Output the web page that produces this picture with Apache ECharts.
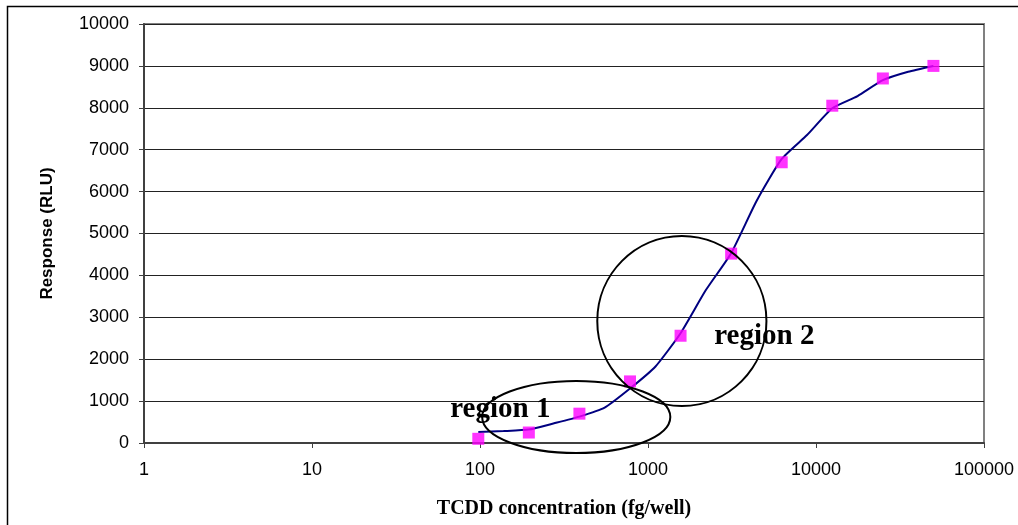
<!DOCTYPE html>
<html>
<head>
<meta charset="utf-8">
<script src="https://cdn.jsdelivr.net/npm/echarts@6/dist/echarts.min.js"></script>
<style>
html,body{margin:0;padding:0;background:#fff;}
#chart{width:1018px;height:525px;}
</style>
</head>
<body>
<div id="chart"></div>
<script>
// Measured data (TCDD concentration in fg/well, response in RLU)
const concentrations = [97.7, 195.3, 390.6, 781.3, 1562.5, 3125, 6250, 12500, 25000, 50000];
const responses = [100, 250, 700, 1470, 2560, 4520, 6700, 8050, 8700, 9000];

// Fitted curve
const fitX = [97.7, 138, 195.3, 276, 390.6, 552, 781.3, 1105, 1562.5, 2210, 3125, 4420, 6250, 8840, 12500, 17680, 25000, 35360, 50000];
const fitY = [262, 285, 320, 470, 630, 845, 1300, 1820, 2620, 3650, 4530, 5770, 6780, 7350, 7990, 8280, 8660, 8860, 9000];

const xTicks = [1, 10, 100, 1000, 10000, 100000];
const yTicks = [0, 1000, 2000, 3000, 4000, 5000, 6000, 7000, 8000, 9000, 10000];

// Annotations (data coordinates)
const regionLabels = ['region 1', 'region 2'];
const regionLabelPos = [[66.5, 790], [2480, 2530]];
const regionEllipseX = [[103, 1358], [499, 5070]];   // left, right
const regionEllipseY = [[1480, -240], [4940, 883]];  // top, bottom

const chart = echarts.init(document.getElementById('chart'), null, {renderer: 'canvas'});

const option = {
  animation: false,
  backgroundColor: '#fff',
  grid: {left: 144, right: 34, top: 24, bottom: 82, containLabel: false,
         show: true, borderColor: '#808080', borderWidth: 2, backgroundColor: 'transparent'},
  xAxis: {
    type: 'log', logBase: 10, min: xTicks[0], max: xTicks[xTicks.length - 1],
    name: 'TCDD concentration (fg/well)', nameLocation: 'middle', nameGap: 56,
    nameTextStyle: {fontFamily: 'Liberation Serif', fontWeight: 'bold', fontSize: 20, color: '#000'},
    axisLine: {show: true, onZero: false, lineStyle: {color: '#404040', width: 2}},
    axisTick: {show: true, length: 5, lineStyle: {color: '#404040', width: 1}},
    minorTick: {show: false},
    splitLine: {show: false},
    axisLabel: {fontFamily: 'Liberation Sans', fontSize: 18, color: '#000', margin: 18,
                formatter: v => String(Math.round(v))}
  },
  yAxis: {
    type: 'value', min: yTicks[0], max: yTicks[yTicks.length - 1], interval: 1000,
    name: 'Response (RLU)', nameLocation: 'middle', nameGap: 88, nameRotate: 90,
    nameTextStyle: {fontFamily: 'Liberation Sans', fontWeight: 'bold', fontSize: 17, color: '#000'},
    axisLine: {show: true, lineStyle: {color: '#404040', width: 2}},
    axisTick: {show: true, length: 5, inside: false, lineStyle: {color: '#404040', width: 1}},
    splitLine: {show: true, lineStyle: {color: '#222', width: 1}},
    axisLabel: {fontFamily: 'Liberation Sans', fontSize: 18, color: '#000', margin: 15,
                formatter: v => String(v)}
  },
  series: [
    {
      type: 'line', name: 'fit',
      data: fitX.map((x, i) => [x, fitY[i]]),
      smooth: 0.18, showSymbol: false, symbol: 'none',
      lineStyle: {color: '#000080', width: 2}, z: 2
    },
    {
      type: 'scatter', name: 'data',
      data: concentrations.map((x, i) => [x, responses[i]]),
      symbol: 'rect', symbolSize: 12,
      itemStyle: {color: '#ff00ff'}, z: 3
    }
  ]
};
chart.setOption(option);

function drawAnnotations() {
  const els = [];
  // outer frame
  els.push({type: 'rect', shape: {x: 7.5, y: 6.5, width: 1100, height: 600},
            style: {fill: null, stroke: '#000', lineWidth: 1.5}, silent: true, z: 0});
  for (let i = 0; i < regionLabels.length; i++) {
    const pl = chart.convertToPixel({gridIndex: 0}, [regionEllipseX[i][0], regionEllipseY[i][0]]);
    const pr = chart.convertToPixel({gridIndex: 0}, [regionEllipseX[i][1], regionEllipseY[i][1]]);
    const cx = (pl[0] + pr[0]) / 2, cy = (pl[1] + pr[1]) / 2;
    const rx = Math.abs(pr[0] - pl[0]) / 2, ry = Math.abs(pr[1] - pl[1]) / 2;
    els.push({type: 'ellipse', shape: {cx: cx, cy: cy, rx: rx, ry: ry},
              style: {fill: null, stroke: '#000', lineWidth: 2}, silent: true, z: 10});
    const tp = chart.convertToPixel({gridIndex: 0}, regionLabelPos[i]);
    els.push({type: 'text', x: tp[0], y: tp[1],
              style: {text: regionLabels[i], fill: '#000', font: 'bold 29px "Liberation Serif"',
                      textAlign: 'left', textVerticalAlign: 'middle'}, silent: true, z: 11});
  }
  chart.setOption({graphic: {elements: els}});
}
drawAnnotations();
</script>
</body>
</html>
